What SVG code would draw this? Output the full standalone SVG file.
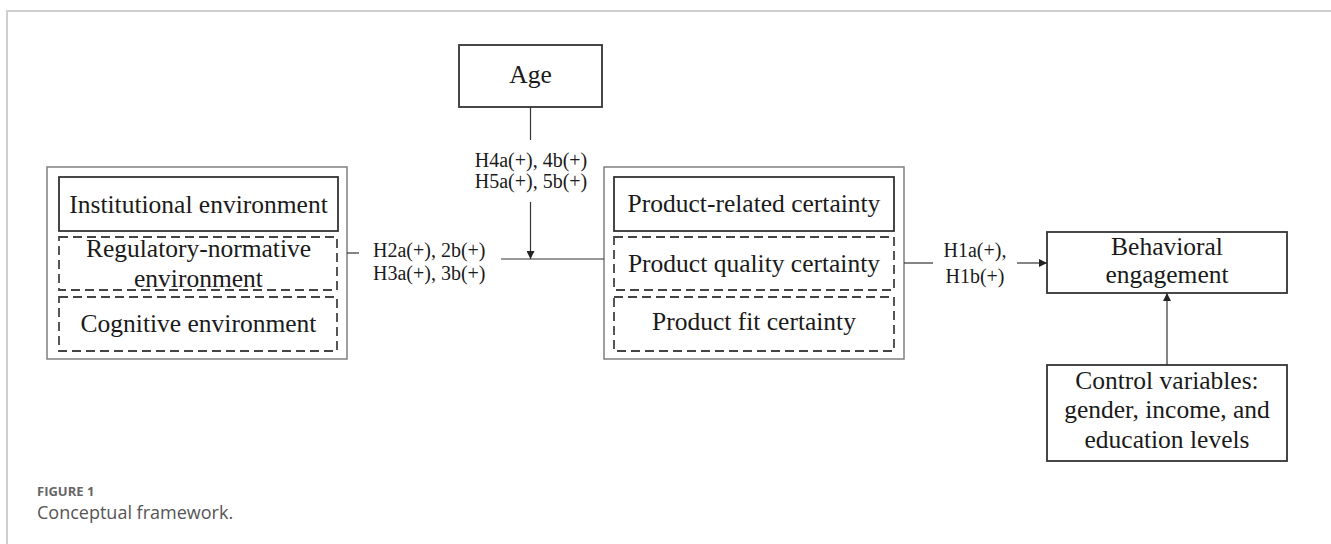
<svg xmlns="http://www.w3.org/2000/svg" width="1331" height="544" viewBox="0 0 1331 544">
<defs>
<marker id="arr" viewBox="0 0 10 10" refX="10" refY="5" markerWidth="8" markerHeight="8" markerUnits="userSpaceOnUse" orient="auto">
<path d="M0,0 L10,5 L0,10 z" fill="#222"/>
</marker>
<style>
.t{font-family:"Liberation Serif","Times New Roman",serif;font-size:25.5px;fill:#1a1a1a;text-anchor:middle}
.lbl{font-family:"Liberation Serif","Times New Roman",serif;font-size:20px;fill:#1a1a1a}
.box{fill:#fff;stroke:#333;stroke-width:1.8}
.outer{fill:#fff;stroke:#808080;stroke-width:1.5}
.dash{fill:none;stroke:#444;stroke-width:1.8;stroke-dasharray:9 5}
.ln{stroke:#333;stroke-width:1.2;fill:none}
.frame{stroke:#cfcfcf;stroke-width:2;fill:none}
.cap{font-family:"Open Sans","Noto Sans",sans-serif}
</style>
</defs>
<rect x="0" y="0" width="1331" height="544" fill="#fff"/>
<path class="frame" d="M7,544 V11 H1331"/>

<g id="age">
<rect class="box" x="459" y="45" width="143" height="62"/>
<text class="t" x="530.5" y="83">Age</text>
</g>

<g id="institutional">
<rect class="outer" x="47" y="167" width="300" height="192"/>
<rect class="box" x="59" y="177" width="279" height="54"/>
<text class="t" x="198.5" y="213">Institutional environment</text>
<rect class="dash" x="59" y="237" width="278" height="53"/>
<text class="t" x="198.5" y="257">Regulatory-normative</text>
<text class="t" x="198.5" y="287">environment</text>
<rect class="dash" x="59" y="297" width="278" height="54"/>
<text class="t" x="198.5" y="332">Cognitive environment</text>
</g>

<g id="product">
<rect class="outer" x="604" y="167" width="300" height="192"/>
<rect class="box" x="614" y="177" width="280" height="54"/>
<text class="t" x="754" y="212">Product-related certainty</text>
<rect class="dash" x="614" y="237" width="280" height="53"/>
<text class="t" x="754" y="272">Product quality certainty</text>
<rect class="dash" x="614" y="297" width="280" height="54"/>
<text class="t" x="754" y="330">Product fit certainty</text>
</g>

<g id="behavioral">
<rect class="box" x="1047" y="232" width="240" height="61"/>
<text class="t" x="1167" y="255">Behavioral</text>
<text class="t" x="1167" y="283">engagement</text>
</g>

<g id="control">
<rect class="box" x="1047" y="365" width="240" height="96"/>
<text class="t" x="1167" y="389">Control variables:</text>
<text class="t" x="1167" y="418">gender, income, and</text>
<text class="t" x="1167" y="448">education levels</text>
</g>

<g id="connectors">
<line class="ln" x1="530.5" y1="107" x2="530.5" y2="140"/>
<line class="ln" x1="530.5" y1="202" x2="530.5" y2="259" marker-end="url(#arr)"/>
<line class="ln" x1="347" y1="253" x2="359" y2="253"/>
<line class="ln" x1="501" y1="259" x2="604" y2="259"/>
<line class="ln" x1="904" y1="263" x2="933" y2="263"/>
<line class="ln" x1="1017" y1="263" x2="1047" y2="263" marker-end="url(#arr)"/>
<line class="ln" x1="1167" y1="365" x2="1167" y2="293" marker-end="url(#arr)"/>
</g>

<g id="labels">
<text class="lbl" x="531" y="167" text-anchor="middle">H4a(+), 4b(+)</text>
<text class="lbl" x="531" y="188" text-anchor="middle">H5a(+), 5b(+)</text>
<text class="lbl" x="373" y="257">H2a(+), 2b(+)</text>
<text class="lbl" x="373" y="280">H3a(+), 3b(+)</text>
<text class="lbl" x="975" y="257" text-anchor="middle">H1a(+),</text>
<text class="lbl" x="975" y="283" text-anchor="middle">H1b(+)</text>
</g>

<g id="caption">
<text class="cap" x="37" y="496" style="font-size:13px;font-weight:bold;fill:#666">FIGURE 1</text>
<text class="cap" x="37" y="519" style="font-size:18px;fill:#555">Conceptual framework.</text>
</g>
</svg>
